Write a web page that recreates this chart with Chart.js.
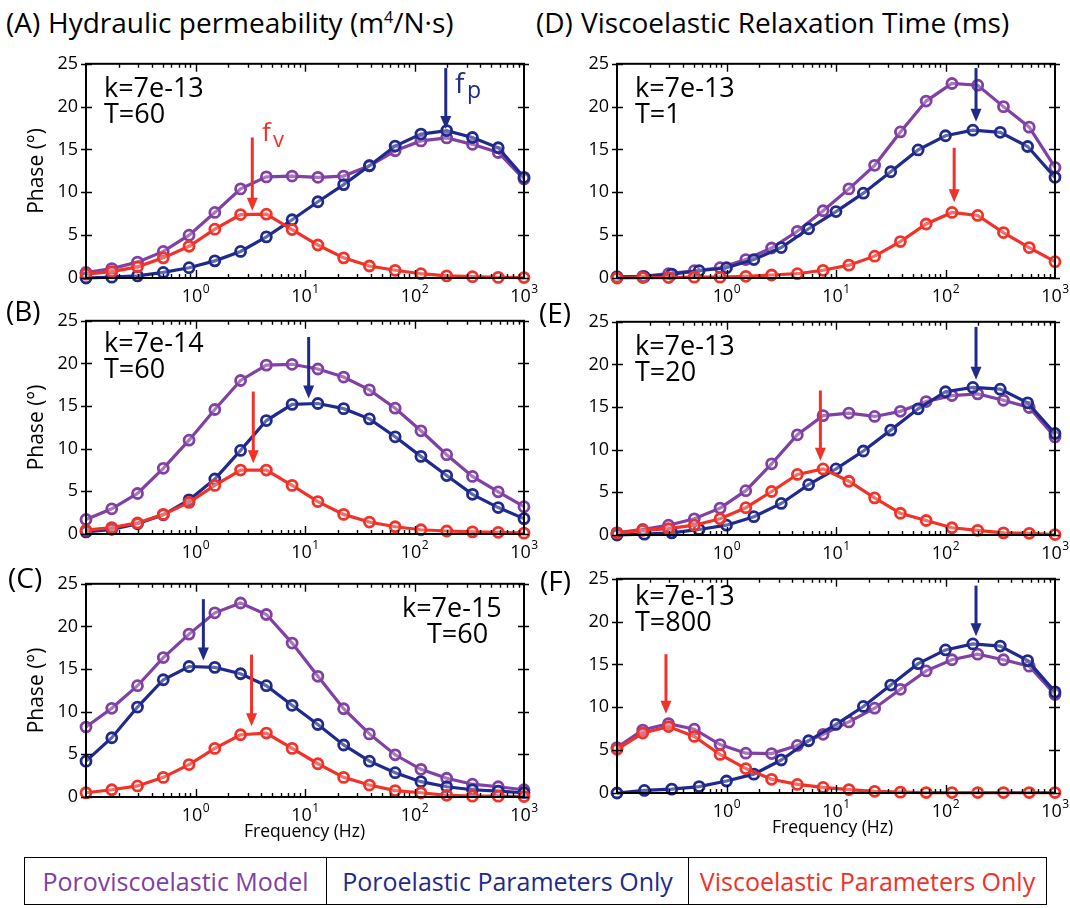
<!DOCTYPE html>
<html>
<head>
<meta charset="utf-8">
<script src="https://cdn.jsdelivr.net/npm/chart.js@4.4.0/dist/chart.umd.min.js"></script>
<style>
  body { margin: 0; background: #fff; width: 1070px; height: 908px; position: relative; overflow: hidden;
         font-family: "Open Sans", "DejaVu Sans", sans-serif; }
  .t { position: absolute; white-space: nowrap; line-height: 1; color: #000; }
  .pane { position: absolute; }
  #legend { position: absolute; left: 24px; top: 857px; width: 1023px; height: 48px; border: 1.5px solid #000;
            display: flex; box-sizing: border-box; }
  #legend div { display: flex; align-items: center; justify-content: center; font-size: 25px; height: 100%; box-sizing: border-box; }
</style>
</head>
<body>

<div id="legend">
  <div style="width:302px;border-right:1.5px solid #000;color:#8040a4">Poroviscoelastic Model</div>
  <div style="width:362px;border-right:1.5px solid #000;color:#1f2a8c">Poroelastic Parameters Only</div>
  <div style="flex:1;color:#f03228">Viscoelastic Parameters Only</div>
</div>

<script>
// frequency grids (Hz)
const freq18 = [0.1, 0.1719, 0.2954, 0.5079, 0.8733, 1.501, 2.580, 4.437, 7.626, 13.11, 22.53, 38.74, 66.59, 114.5, 196.8, 338.3, 581.5, 1000];
const freq17 = [0.1, 0.1778, 0.3162, 0.5623, 1, 1.778, 3.162, 5.623, 10, 17.78, 31.62, 56.23, 100, 177.8, 316.2, 562.3, 1000];

// (A) k=7e-13, T=60
const purpleA = [0.64, 1.1, 1.85, 3.1, 5.0, 7.65, 10.4, 11.8, 11.9, 11.75, 11.9, 13.1, 14.85, 16.0, 16.35, 15.6, 14.65, 11.55];
const blueA   = [0.0, 0.1, 0.25, 0.65, 1.2, 2.0, 3.1, 4.8, 6.8, 8.9, 10.9, 13.1, 15.4, 16.8, 17.2, 16.4, 15.2, 11.75];
const redA    = [0.45, 0.75, 1.3, 2.35, 3.7, 5.7, 7.4, 7.45, 5.65, 3.85, 2.35, 1.4, 0.9, 0.5, 0.25, 0.15, 0.07, 0.05];
// (B) k=7e-14, T=60
const purpleB = [1.7, 2.95, 4.75, 7.7, 11.0, 14.6, 18.0, 19.8, 19.9, 19.35, 18.4, 16.9, 14.75, 12.1, 9.3, 6.75, 4.95, 3.2];
const blueB   = [0.25, 0.55, 1.2, 2.25, 4.0, 6.45, 9.8, 13.3, 15.2, 15.3, 14.7, 13.5, 11.4, 9.1, 6.85, 4.65, 3.1, 1.8];
const redB    = [0.45, 0.75, 1.3, 2.3, 3.7, 5.7, 7.5, 7.5, 5.7, 3.8, 2.3, 1.4, 0.85, 0.5, 0.35, 0.25, 0.2, 0.1];
// (C) k=7e-15, T=60
const purpleC = [8.2, 10.4, 13.05, 16.35, 19.1, 21.6, 22.75, 21.4, 18.05, 14.15, 10.35, 7.4, 4.95, 3.25, 2.2, 1.5, 1.2, 0.85];
const blueC   = [4.2, 6.95, 10.55, 13.75, 15.3, 15.2, 14.45, 13.05, 10.75, 8.5, 6.1, 4.2, 2.85, 1.8, 1.2, 0.85, 0.7, 0.5];
const redC    = [0.5, 0.85, 1.3, 2.3, 3.8, 5.7, 7.3, 7.5, 5.7, 3.9, 2.3, 1.4, 0.75, 0.5, 0.2, 0.1, 0.1, 0.05];
// (D) k=7e-13, T=1
const purpleD = [0.15, 0.2, 0.5, 0.85, 1.2, 2.15, 3.5, 5.45, 7.85, 10.4, 13.15, 17.05, 20.65, 22.7, 22.5, 20.0, 17.6, 12.9];
const blueD   = [0.1, 0.15, 0.45, 0.85, 1.2, 2.15, 3.55, 5.75, 7.75, 9.9, 12.4, 14.95, 16.6, 17.25, 17.0, 15.35, 11.75];
const redD    = [0.0, 0.05, 0.05, 0.1, 0.1, 0.2, 0.35, 0.5, 0.9, 1.5, 2.55, 4.25, 6.3, 7.65, 7.3, 5.3, 3.55, 1.9];
// (E) k=7e-13, T=20
const purpleE = [0.25, 0.65, 1.15, 1.9, 3.15, 5.2, 8.35, 11.75, 14.0, 14.3, 13.9, 14.5, 15.65, 16.35, 16.55, 15.8, 14.95, 11.5];
const blueE   = [0.0, 0.1, 0.25, 0.65, 1.15, 2.15, 3.7, 5.9, 7.75, 9.85, 12.3, 14.8, 16.8, 17.3, 17.1, 15.5, 11.9];
const redE    = [0.25, 0.55, 0.75, 1.15, 1.9, 3.2, 5.1, 7.1, 7.75, 6.3, 4.35, 2.55, 1.7, 0.85, 0.55, 0.25, 0.2, 0.05];
// (F) k=7e-13, T=800
const purpleF = [5.3, 7.35, 8.1, 7.45, 5.65, 4.65, 4.6, 5.55, 6.85, 8.3, 9.9, 12.1, 14.25, 15.55, 16.2, 15.55, 14.8, 11.5];
const blueF   = [0.0, 0.3, 0.45, 0.75, 1.4, 2.2, 3.85, 6.1, 8.0, 10.1, 12.6, 15.1, 16.7, 17.4, 17.15, 15.45, 11.8];
const redF    = [5.1, 7.0, 7.75, 6.6, 4.5, 2.85, 1.6, 1.0, 0.65, 0.4, 0.2, 0.1, 0.05, 0.05, 0.05, 0.05, 0.05, 0.05];

// peak arrows: frequency, tail phase, tip phase
const arrowsA = [{ f: 3.3, from: 16.4, to: 7.85, c: 'red' }, { f: 193, from: 24.5, to: 17.4, c: 'blue' }];
const arrowsB = [{ f: 3.37, from: 16.7, to: 8.3, c: 'red' }, { f: 10.8, from: 23.1, to: 15.9, c: 'blue' }];
const arrowsC = [{ f: 3.25, from: 16.7, to: 8.3, c: 'red' }, { f: 1.18, from: 23.2, to: 16.0, c: 'blue' }];
const arrowsD = [{ f: 120, from: 15.2, to: 8.85, c: 'red' }, { f: 190, from: 24.5, to: 18.25, c: 'blue' }];
const arrowsE = [{ f: 7.2, from: 16.95, to: 8.7, c: 'red' }, { f: 190, from: 24.4, to: 18.2, c: 'blue' }];
const arrowsF = [{ f: 0.28, from: 16.2, to: 9.25, c: 'red' }, { f: 190, from: 24.2, to: 18.3, c: 'blue' }];

// axis ticks
const yTicks = [0, 5, 10, 15, 20, 25];
const xDecades = [1, 10, 100, 1000];
const xExponents = ['0', '1', '2', '3'];

const FONT = '"Open Sans", "DejaVu Sans", sans-serif';
const COL = { purple: '#8040a4', blue: '#1f2a8c', red: '#f03228' };
Chart.defaults.font.family = FONT;
Chart.defaults.color = '#000';
Chart.defaults.animation = false;

// box, inward ticks, decade labels and arrows
const framePlugin = {
  id: 'frame',
  afterDatasetsDraw(chart, args, opts) {
    const { ctx, chartArea: a, scales: { x, y } } = chart;
    ctx.save();
    ctx.strokeStyle = '#000';
    ctx.lineWidth = 2;
    ctx.strokeRect(a.left, a.top, a.right - a.left, a.bottom - a.top);
    ctx.lineWidth = 1.4;
    ctx.beginPath();
    yTicks.forEach(v => {
      const py = Math.round(y.getPixelForValue(v)) + 0.5;
      ctx.moveTo(a.left - 5, py); ctx.lineTo(a.left + 6, py);
      ctx.moveTo(a.right - 6, py); ctx.lineTo(a.right + 5, py);
    });
    [0.1, 1, 10, 100].forEach(d => {
      for (let m = 1; m <= 9; m++) {
        const v = d * m;
        if (v <= 0.1 || v >= 1000) continue;
        const px = Math.round(x.getPixelForValue(v)) + 0.5;
        const len = m === 1 ? 8 : 4;
        ctx.moveTo(px, a.bottom); ctx.lineTo(px, a.bottom - len);
        ctx.moveTo(px, a.top); ctx.lineTo(px, a.top + len);
      }
    });
    ctx.stroke();

    // 10^n labels
    ctx.fillStyle = '#000';
    ctx.textAlign = 'left';
    ctx.textBaseline = 'alphabetic';
    xDecades.forEach((v, i) => {
      const px = x.getPixelForValue(v);
      ctx.font = '18px ' + FONT;
      const w1 = ctx.measureText('10').width;
      ctx.font = '12px ' + FONT;
      const w2 = ctx.measureText(xExponents[i]).width;
      const x0 = px - (w1 + w2) / 2;
      ctx.font = '18px ' + FONT;
      ctx.fillText('10', x0, a.bottom + 24);
      ctx.font = '12px ' + FONT;
      ctx.fillText(xExponents[i], x0 + w1 + 0.5, a.bottom + 15);
    });

    // arrows
    (opts.arrows || []).forEach(ar => {
      const px = x.getPixelForValue(ar.f);
      const y0 = y.getPixelForValue(ar.from);
      const y1 = y.getPixelForValue(ar.to);
      ctx.strokeStyle = COL[ar.c];
      ctx.fillStyle = COL[ar.c];
      ctx.lineWidth = 3;
      ctx.beginPath(); ctx.moveTo(px, y0); ctx.lineTo(px, y1 - 11); ctx.stroke();
      ctx.beginPath();
      ctx.moveTo(px - 5.5, y1 - 13); ctx.lineTo(px + 5.5, y1 - 13); ctx.lineTo(px, y1);
      ctx.closePath(); ctx.fill();
    });
    ctx.restore();
  }
};

function series(xs, ys, color, order) {
  return {
    data: xs.map((f, i) => ({ x: f, y: ys[i] })),
    borderColor: color,
    backgroundColor: 'transparent',
    borderWidth: 3.2,
    pointRadius: 5,
    pointBorderWidth: 2.8,
    pointBackgroundColor: 'rgba(255,255,255,0.3)',
    pointBorderColor: color,
    order: order,
    clip: false
  };
}

function panel(isLeft, top, bottom, purple, blue, blueFreq, red, arrows) {
  const yw = isLeft ? 62 : 57;
  const divLeft = isLeft ? 24 : 560;
  const padR = isLeft ? 26 : 15;
  const div = document.createElement('div');
  div.className = 'pane';
  div.style.left = divLeft + 'px';
  div.style.top = (top - 12) + 'px';
  div.style.width = (yw + 438 + padR) + 'px';
  div.style.height = (12 + (bottom - top) + 32) + 'px';
  const cv = document.createElement('canvas');
  div.appendChild(cv);
  document.body.appendChild(div);

  return new Chart(cv.getContext('2d'), {
    type: 'line',
    data: {
      datasets: [
        series(freq18, purple, COL.purple, 3),
        series(blueFreq, blue, COL.blue, 2),
        series(freq18, red, COL.red, 1)
      ]
    },
    options: {
      responsive: true,
      maintainAspectRatio: false,
      layout: { padding: { top: 12, right: padR, left: 0, bottom: 0 } },
      plugins: { legend: { display: false }, tooltip: { enabled: false }, frame: { arrows: arrows } },
      scales: {
        x: {
          type: 'logarithmic', min: 0.1, max: 1000,
          ticks: { display: false },
          grid: { display: false, drawTicks: false },
          border: { display: false },
          afterFit: s => { s.height = 32; }
        },
        y: {
          min: 0, max: 25,
          ticks: { stepSize: 5, font: { size: 18 }, color: '#000', padding: 8 },
          grid: { display: false, drawTicks: false },
          border: { display: false },
          title: { display: isLeft, text: 'Phase (°)', font: { size: 21 }, color: '#000', padding: 0 },
          afterFit: s => { s.width = yw; }
        }
      }
    },
    plugins: [framePlugin]
  });
}

panel(true, 57, 278, purpleA, blueA, freq18, redA, arrowsA);
panel(true, 314, 534, purpleB, blueB, freq18, redB, arrowsB);
panel(true, 577, 797, purpleC, blueC, freq18, redC, arrowsC);
panel(false, 57, 278, purpleD, blueD, freq17, redD, arrowsD);
panel(false, 315, 535, purpleE, blueE, freq17, redE, arrowsE);
panel(false, 572, 793, purpleF, blueF, freq17, redF, arrowsF);

// text placed by baseline
function text(html, x, base, size, color) {
  const d = document.createElement('div');
  d.className = 't';
  d.innerHTML = html;
  d.style.left = x + 'px';
  d.style.top = (base - 0.888 * size) + 'px';
  d.style.fontSize = size + 'px';
  if (color) d.style.color = color;
  document.body.appendChild(d);
}

text('(A)', 6, 33, 28);
text('Hydraulic permeability (m<sup style="font-size:16px;vertical-align:10px">4</sup>/N·s)', 48, 33, 28);
text('(D)', 536, 33, 28);
text('Viscoelastic Relaxation Time (ms)', 581, 33, 28);
text('(B)', 6, 321, 28);
text('(C)', 8, 588, 28);
text('(E)', 539, 323, 28);
text('(F)', 540, 591, 28);

text('k=7e-13', 104, 97, 27);
text('T=60', 104, 123, 27);
text('k=7e-14', 104, 352, 27);
text('T=60', 104, 378, 27);
text('k=7e-15', 402, 617, 27);
text('T=60', 427, 643, 27);
text('k=7e-13', 635, 97, 27);
text('T=1', 635, 123, 27);
text('k=7e-13', 635, 355, 27);
text('T=20', 635, 381, 27);
text('k=7e-13', 635, 605, 27);
text('T=800', 635, 631, 27);

text('f', 455, 93, 28, COL.blue);
text('p', 467, 98, 23, COL.blue);
text('f', 262, 141, 26, COL.red);
text('v', 273, 147, 22, COL.red);

text('Frequency (Hz)', 244, 838, 17.5);
text('Frequency (Hz)', 772, 834, 17.5);
</script>
</body>
</html>
